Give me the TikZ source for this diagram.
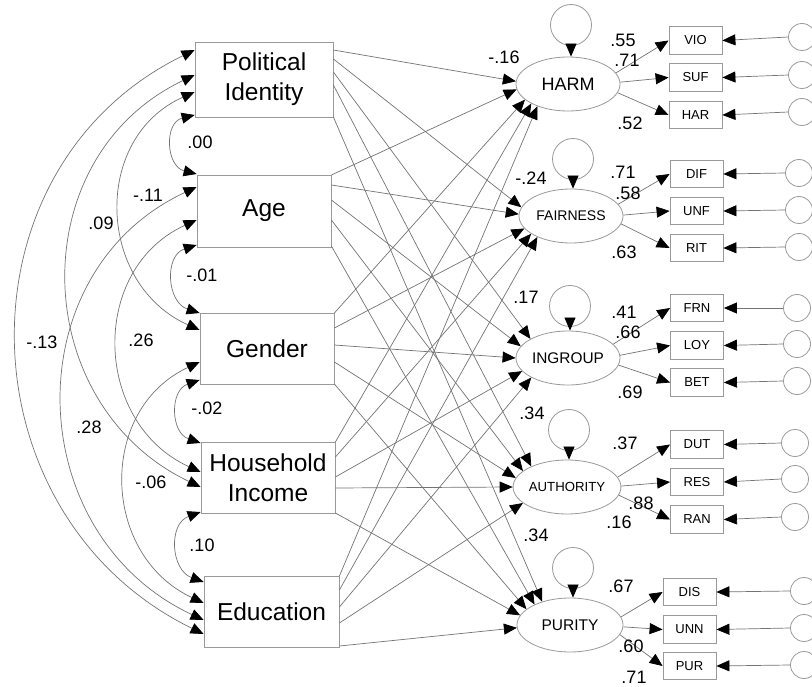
\documentclass[tikz,border=0pt]{standalone}
\usepackage{fontspec}
\setmainfont{Liberation Sans}
\usetikzlibrary{arrows.meta,shapes.geometric}
\begin{document}
\begin{tikzpicture}[x=1pt,y=1pt,
  exo/.style={draw=black!40, line width=0.8pt, inner sep=0pt, align=center, font=\fontsize{24.5}{30}\selectfont},
  lat/.style={ellipse, draw=black!40, line width=0.8pt, minimum width=104pt, minimum height=54pt, inner sep=0pt},
  ind/.style={draw=black!40, line width=0.8pt, minimum width=53pt, minimum height=27.5pt, inner sep=0pt, font=\fontsize{13}{15}\selectfont},
  err/.style={circle, draw=black!40, line width=0.8pt, minimum size=27pt, inner sep=0pt},
  loopc/.style={circle, draw=black!40, line width=0.8pt, minimum size=41pt, inner sep=0pt},
  tipa/.tip={Triangle[length=13pt,width=11pt,color=black]},
  pth/.style={draw=black!55, line width=0.7pt, -tipa},
  cov/.style={draw=black!55, line width=0.7pt, tipa-tipa},
  lbl/.style={font=\fontsize{18}{20}\selectfont, inner sep=0pt},
]
\useasboundingbox (0,0) rectangle (812,-687);

% exogenous boxes
\node[exo, minimum width=138pt, minimum height=75pt] (pi) at (264,-79.5) {Political\\Identity};
\node[exo, minimum width=134pt, minimum height=72pt] (age) at (264,-211) {Age};
\node[exo, minimum width=134pt, minimum height=71pt] (gen) at (267,-348.5) {Gender};
\node[exo, minimum width=134pt, minimum height=71pt] (hi) at (268,-477.5) {Household\\Income};
\node[exo, minimum width=135pt, minimum height=71pt] (ed) at (271.5,-611.5) {Education};

% latent variables
\node[lat, font=\fontsize{18}{20}\selectfont] (harm) at (568,-84) {HARM};
\node[lat, font=\fontsize{14}{16}\selectfont] (fair) at (571,-216) {FAIRNESS};
\node[lat, font=\fontsize{15.4}{17}\selectfont] (ing) at (568,-358) {INGROUP};
\node[lat, font=\fontsize{13.2}{15}\selectfont, minimum width=106pt] (auth) at (567,-487) {AUTHORITY};
\node[lat, font=\fontsize{15.5}{17}\selectfont, minimum width=106pt] (pur) at (570,-625) {PURITY};

% residual loops
\node[loopc] (hl) at (571,-25) {};
\node[loopc] (fl) at (573,-159) {};
\node[loopc] (il) at (570,-306) {};
\node[loopc] (al) at (569,-430) {};
\node[loopc] (pl) at (573,-568) {};
\draw[pth] (hl.south) -- (hl.south |- harm.north);
\draw[pth] (fl.south) -- (fl.south |- fair.north);
\draw[pth] (il.south) -- (il.south |- ing.north);
\draw[pth] (al.south) -- (al.south |- auth.north);
\draw[pth] (pl.south) -- (pl.south |- pur.north);

% indicators
\node[ind] (vio) at (695.5,-40.5) {VIO};
\node[ind] (suf) at (695.5,-77.5) {SUF};
\node[ind] (har) at (695.5,-115) {HAR};
\node[ind] (dif) at (696.5,-174) {DIF};
\node[ind] (unf) at (696.5,-211) {UNF};
\node[ind] (rit) at (696.5,-248) {RIT};
\node[ind] (frn) at (697,-308) {FRN};
\node[ind] (loy) at (697,-345.5) {LOY};
\node[ind] (bet) at (697,-382.5) {BET};
\node[ind] (dut) at (697,-444.5) {DUT};
\node[ind] (res) at (697,-482) {RES};
\node[ind] (ran) at (697,-519.5) {RAN};
\node[ind] (dis) at (689.5,-592) {DIS};
\node[ind] (unn) at (689.5,-629.5) {UNN};
\node[ind] (pu) at (689.5,-666) {PUR};

% error circles
\node[err] (e1) at (802,-37) {};
\node[err] (e2) at (802,-75) {};
\node[err] (e3) at (802,-112) {};
\node[err] (e4) at (799,-173) {};
\node[err] (e5) at (799,-210) {};
\node[err] (e6) at (799,-247) {};
\node[err] (e7) at (797,-308) {};
\node[err] (e8) at (797,-344) {};
\node[err] (e9) at (797,-381) {};
\node[err] (e10) at (795,-443) {};
\node[err] (e11) at (795,-479) {};
\node[err] (e12) at (795,-517) {};
\node[err] (e13) at (804,-591) {};
\node[err] (e14) at (804,-628) {};
\node[err] (e15) at (804,-665) {};
\foreach \e/\b in {e1/vio,e2/suf,e3/har,e4/dif,e5/unf,e6/rit,e7/frn,e8/loy,e9/bet,e10/dut,e11/res,e12/ran,e13/dis,e14/unn,e15/pu}
  \draw[pth] (\e.west) -- (\b.east);

% loadings
\draw[pth] (harm.13) -- (vio.west);
\draw[pth] (harm.2) -- (suf.west);
\draw[pth] (harm.-10) -- (har.west);
\draw[pth] (fair.14) -- (dif.west);
\draw[pth] (fair.1) -- (unf.west);
\draw[pth] (fair.-9) -- (rit.west);
\draw[pth] (ing.17) -- (frn.west);
\draw[pth] (ing.3) -- (loy.west);
\draw[pth] (ing.-8) -- (bet.west);
\draw[pth] (auth.11) -- (dut.west);
\draw[pth] (auth.1) -- (res.west);
\draw[pth] (auth.-9) -- (ran.west);
\draw[pth] (pur.9) -- (dis.west);
\draw[pth] (pur.-2) -- (unn.west);
\draw[pth] (pur.-11) -- (pu.west);

% structural paths
% Political Identity
\draw[pth] (pi.east |- 0,-50) -- (harm.177);
\draw[pth] (pi.east |- 0,-59) -- (fair.170);
\draw[pth] (pi.east |- 0,-72) -- (ing.153);
\draw[pth] (pi.east |- 0,-85) -- (auth.150);
\draw[pth] (pi.east |- 0,-117) -- (pur.140);
% Age
\draw[pth] (age.east |- 0,-175) -- (harm.186);
\draw[pth] (age.east |- 0,-185) -- (fair.178);
\draw[pth] (age.east |- 0,-200) -- (ing.166);
\draw[pth] (age.east |- 0,-220) -- (auth.160);
\draw[pth] (age.east |- 0,-246) -- (pur.150);
% Gender
\draw[pth] (gen.east |- 0,-313) -- (harm.200);
\draw[pth] (gen.east |- 0,-328) -- (fair.195);
\draw[pth] (gen.east |- 0,-345) -- (ing.180);
\draw[pth] (gen.east |- 0,-362) -- (auth.170);
\draw[pth] (gen.east |- 0,-384) -- (pur.160);
% Household Income
\draw[pth] (hi.east |- 0,-442) -- (harm.208);
\draw[pth] (hi.east |- 0,-457) -- (fair.204);
\draw[pth] (hi.east |- 0,-477) -- (ing.196);
\draw[pth] (hi.east |- 0,-488) -- (auth.180);
\draw[pth] (hi.east |- 0,-513) -- (pur.169);
% Education
\draw[pth] (ed.east |- 0,-576) -- (harm.216);
\draw[pth] (ed.east |- 0,-590) -- (fair.212);
\draw[pth] (ed.east |- 0,-607) -- (ing.208);
\draw[pth] (ed.east |- 0,-623) -- (auth.200);
\draw[pth] (ed.east |- 0,-646) -- (pur.183);

% covariances
\draw[cov] (pi.west |- 0,-115) to[out=194,in=166,looseness=1.37] (age.west |- 0,-174);
\draw[cov] (age.west |- 0,-245) to[out=198,in=162,looseness=1.29] (gen.west |- 0,-313);
\draw[cov] (gen.west |- 0,-380) to[out=199,in=161,looseness=1.29] (hi.west |- 0,-443);
\draw[cov] (hi.west |- 0,-512) to[out=200,in=160,looseness=1.27] (ed.west |- 0,-582);
\draw[cov] (pi.west |- 0,-92) to[out=204,in=156,looseness=1.21] (gen.west |- 0,-330);
\draw[cov] (gen.west |- 0,-362) to[out=205,in=155,looseness=1.2] (ed.west |- 0,-603);
\draw[cov] (age.west |- 0,-220) to[out=204.5,in=155.5,looseness=1.2] (hi.west |- 0,-472);
\draw[cov] (pi.west |- 0,-75) to[out=205.5,in=154.5,looseness=1.19] (hi.west |- 0,-487);
\draw[cov] (age.west |- 0,-187) to[out=205,in=155,looseness=1.19] (ed.west |- 0,-620);
\draw[cov] (pi.west |- 0,-50) to[out=206,in=154,looseness=1.18] (ed.west |- 0,-634);

% covariance labels
\node[lbl] (c1) at (200,-142) {.00};
\node[lbl] (c2) at (148,-195) {-.11};
\node[lbl] (c3) at (101,-223) {.09};
\node[lbl] (c4) at (202,-275) {-.01};
\node[lbl] (c5) at (42,-342) {-.13};
\node[lbl] (c6) at (141,-340) {.26};
\node[lbl] (c7) at (207,-408) {-.02};
\node[lbl] (c8) at (89,-427) {.28};
\node[lbl] (c9) at (151,-482) {-.06};
\node[lbl] (c10) at (202,-545) {.10};

% R2 labels
\node[lbl] (r1) at (504,-57) {-.16};
\node[lbl] (r2) at (531,-178) {-.24};
\node[lbl] (r3) at (526,-297) {.17};
\node[lbl] (r4) at (532,-413) {.34};
\node[lbl] (r5) at (536,-535) {.34};

% loading labels
\node[lbl] (m1) at (623,-40) {.55};
\node[lbl] (m2) at (627,-60) {.71};
\node[lbl] (m3) at (630,-123) {.52};
\node[lbl] (m4) at (623,-172) {.71};
\node[lbl] (m5) at (628,-193) {.58};
\node[lbl] (m6) at (624,-252) {.63};
\node[lbl] (m7) at (624,-312) {.41};
\node[lbl] (m8) at (628,-332) {.66};
\node[lbl] (m9) at (630,-392) {.69};
\node[lbl] (m10) at (625,-443) {.37};
\node[lbl] (m11) at (641,-503) {.88};
\node[lbl] (m12) at (619,-522) {.16};
\node[lbl] (m13) at (621,-586) {.67};
\node[lbl] (m14) at (631,-646) {.60};
\node[lbl] (m15) at (634,-677) {.71};
\end{tikzpicture}
\end{document}
